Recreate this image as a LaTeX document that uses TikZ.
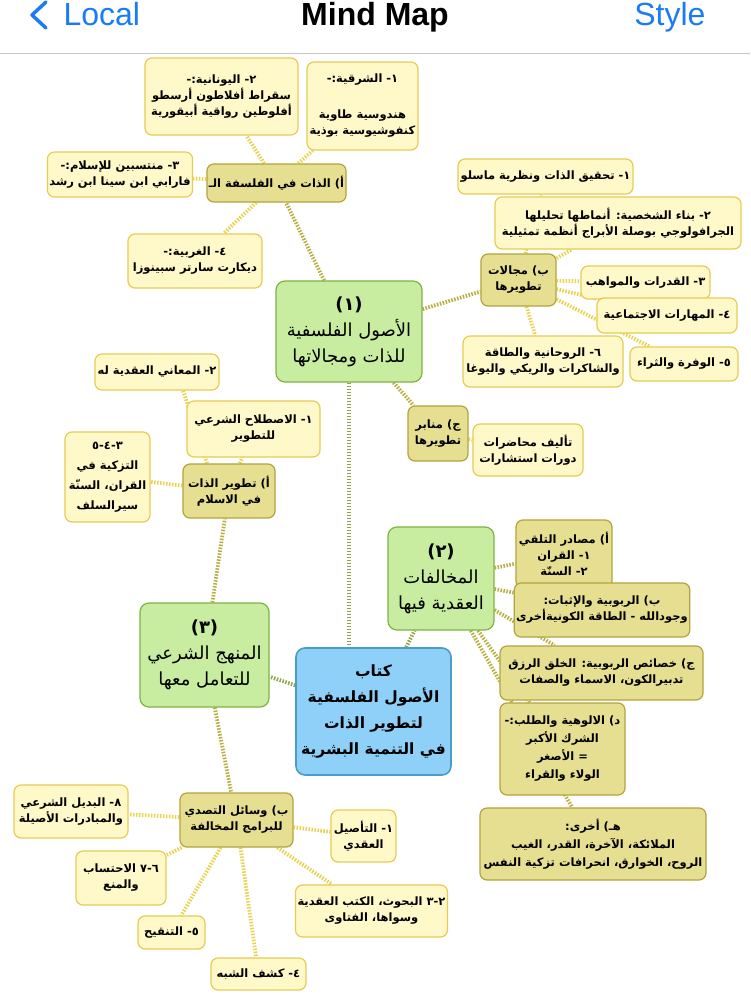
\documentclass[tikz,border=0pt]{standalone}
\usepackage{fontspec}
\setmainfont{Liberation Sans}
\newfontfamily\arabicfont[Script=Arabic]{DejaVu Sans}
\usetikzlibrary{backgrounds}
\TeXXeTstate=1
\newcommand\wk{\kern0pt}
\newcommand\rl[1]{\beginR#1\endR}
\definecolor{iosblue}{HTML}{1A7CF5}
\definecolor{leaffill}{HTML}{FFF8C8}
\definecolor{leafline}{HTML}{E6CC55}
\definecolor{subfill}{HTML}{E6DF92}
\definecolor{subline}{HTML}{B2A43E}
\definecolor{mainfill}{HTML}{C8EDA0}
\definecolor{mainline}{HTML}{7EB444}
\definecolor{rootfill}{HTML}{8FD0F8}
\definecolor{rootline}{HTML}{4B9CC9}
\definecolor{trunkcol}{HTML}{8DA843}
\definecolor{branchcol}{HTML}{B8AE3D}
\definecolor{twigcol}{HTML}{E8D34F}
\begin{document}
\begin{tikzpicture}[x=1pt, y=-1pt,
  box/.style={draw, rounded corners=7pt, line width=1.2pt, align=center, inner sep=2pt,
    font=\arabicfont\bfseries\fontsize{11.5}{16}\selectfont},
  leaf/.style={box, fill=leaffill, draw=leafline},
  sub/.style={box, fill=subfill, draw=subline},
  main/.style={box, fill=mainfill, draw=mainline, rounded corners=9pt,
    font=\arabicfont\fontsize{18}{26}\selectfont},
  root/.style={box, fill=rootfill, draw=rootline, rounded corners=9pt, line width=1.6pt,
    font=\arabicfont\bfseries\fontsize{15.5}{26}\selectfont},
  link/.style={dash pattern=on 1.5pt off 1.5pt, line width=3.8pt},
  trunk/.style={link, draw=trunkcol},
  branch/.style={link, draw=branchcol},
  twig/.style={link, draw=twigcol}]
\useasboundingbox (0,0) rectangle (750,995);

% top bar
\node[anchor=base, font=\bfseries\fontsize{32}{36}\selectfont] (title) at (375,26) {Mind Map};
\node[anchor=base west, text=iosblue, font=\fontsize{32}{36}\selectfont] (back) at (60,26) {Local};
\node[anchor=base east, text=iosblue, font=\fontsize{32}{36}\selectfont] (styl) at (709,26) {Style};
\draw[iosblue, line width=3.5pt, line cap=round, line join=round] (46,2)--(32,15)--(46,28);
\draw[black!22, line width=1pt] (0,54)--(750,54);

% centre and the three main topics
\node[root, minimum width=155, minimum height=127] (root) at (373.5,711.5)
  {\rl{كتاب}\\\rl{الأصول الفلسفية}\\\rl{لتطوير الذات}\\\rl{في التنمية البشرية}};
\node[main, minimum width=146, minimum height=101] (g1) at (349,331.5)
  {\rl{\textbf{(١)}}\\\rl{الأصول الفلسفية}\\\rl{للذات ومجالاتها}};
\node[main, minimum width=106, minimum height=103] (g2) at (441,578.5)
  {\rl{\textbf{(٢)}}\\\rl{المخالفات}\\\rl{العقدية فيها}};
\node[main, minimum width=129, minimum height=104] (g3) at (204.5,655)
  {\rl{\textbf{(٣)}}\\\rl{المنهج الشرعي}\\\rl{للتعامل معها}};

% topic 1
\node[sub, minimum width=133, minimum height=38] (a1) at (276.5,183)
  {\rl{أ) الذات في الفلسفة الـ}};
\node[leaf, minimum width=111, minimum height=88] (a1e) at (362.5,106)
  {\rl{١\wk{}- الشرقية:-}\\[20pt]\rl{هندوسية طاوية}\\\rl{كنفوشيوسية بوذية}};
\node[leaf, minimum width=153, minimum height=77] (a1g) at (221.5,96.5)
  {\rl{٢\wk{}- اليونانية:-}\\\rl{سقراط أفلاطون أرسطو}\\\rl{أفلوطين رواقية أبيقورية}};
\node[leaf, minimum width=140, minimum height=45] (a1i) at (120,174.5)
  {\rl{٣\wk{}- منتسبين للإسلام:-}\\\rl{فارابي ابن سينا ابن رشد}};
\node[leaf, minimum width=134, minimum height=54] (a1w) at (195,261)
  {\rl{٤\wk{}- الغربية:-}\\\rl{ديكارت سارتر سبينوزا}};

\node[sub, minimum width=75, minimum height=52] (b1) at (518.5,280) {\rl{ب) مجالات}\\\rl{تطويرها}};
\node[leaf, minimum width=175, minimum height=35] (b1a) at (545.5,176.5)
  {\rl{١\wk{}- تحقيق الذات ونظرية ماسلو}};
\node[leaf, minimum width=246, minimum height=52] (b1b) at (618,223)
  {\rl{٢\wk{}- بناء الشخصية: أنماطها تحليلها}\\\rl{الجرافولوجي بوصلة الأبراج أنظمة تمثيلية}};
\node[leaf, minimum width=129, minimum height=33] (b1c) at (645.5,282.5) {\rl{٣\wk{}- القدرات والمواهب}};
\node[leaf, minimum width=140, minimum height=35] (b1d) at (667,315.5) {\rl{٤\wk{}- المهارات الاجتماعية}};
\node[leaf, minimum width=108, minimum height=34] (b1e) at (684,364) {\rl{٥\wk{}- الوفرة والثراء}};
\node[leaf, minimum width=160, minimum height=51] (b1f) at (543,361.5)
  {\rl{٦\wk{}- الروحانية والطاقة}\\\rl{والشاكرات والريكي واليوغا}};

\node[sub, minimum width=60, minimum height=55] (c1) at (438,433.5) {\rl{ج) منابر}\\\rl{تطويرها}};
\node[leaf, minimum width=110, minimum height=52] (c1a) at (528,450) {\rl{تأليف محاضرات}\\\rl{دورات استشارات}};

% topic 3
\node[sub, minimum width=92, minimum height=54] (a3) at (229,491) {\rl{أ) تطوير الذات}\\\rl{في الاسلام}};
\node[leaf, minimum width=133, minimum height=56] (a3a) at (253.5,429) {\rl{١\wk{}- الاصطلاح الشرعي}\\\rl{للتطوير}};
\node[leaf, minimum width=124, minimum height=36] (a3b) at (157,372) {\rl{٢\wk{}- المعاني العقدية له}};
\node[leaf, minimum width=85, minimum height=90, font=\arabicfont\bfseries\fontsize{11.5}{20}\selectfont] (a3c) at (107.5,477)
  {\rl{٣-٤-٥}\\\rl{التزكية في}\\\rl{القران، السنّة}\\\rl{سيرالسلف}};

\node[sub, minimum width=113, minimum height=54] (b3) at (236.5,820) {\rl{ب) وسائل التصدي}\\\rl{للبرامج المخالفة}};
\node[leaf, minimum width=65, minimum height=52] (b3a) at (363.5,836) {\rl{١\wk{}- التأصيل}\\\rl{العقدي}};
\node[leaf, minimum width=133, minimum height=52] (b3b) at (371.5,911)
  {\rl{٢-٣ البحوث، الكتب العقدية}\\\rl{وسواها، الفتاوى}};
\node[leaf, minimum width=95, minimum height=32] (b3c) at (258.5,974) {\rl{٤\wk{}- كشف الشبه}};
\node[leaf, minimum width=67, minimum height=33] (b3d) at (171.5,932.5) {\rl{٥\wk{}- التنقيح}};
\node[leaf, minimum width=90, minimum height=54] (b3e) at (121,878) {\rl{٦-٧ الاحتساب}\\\rl{والمنع}};
\node[leaf, minimum width=114, minimum height=53] (b3f) at (71,811.5) {\rl{٨\wk{}- البديل الشرعي}\\\rl{والمبادرات الأصيلة}};

% topic 2
\node[sub, minimum width=96, minimum height=68] (d1) at (564,554)
  {\rl{أ) مصادر التلقي}\\\rl{١\wk{}- القران}\\\rl{٢\wk{}- السنّة}};
\node[sub, minimum width=172, minimum height=54] (d2) at (602,610)
  {\rl{ب) الربوبية والإثبات:}\\\rl{وجودالله - الطاقة الكونيةأخرى}};
\node[sub, minimum width=203, minimum height=54] (d3) at (601.5,673)
  {\rl{ج) خصائص الربوبية: الخلق الرزق}\\\rl{تدبيرالكون، الاسماء والصفات}};
\node[sub, minimum width=125, minimum height=92, font=\arabicfont\bfseries\fontsize{11.5}{18}\selectfont] (d4) at (562.5,749)
  {\rl{د) الالوهية والطلب:-}\\\rl{الشرك الأكبر}\\\rl{= الأصغر}\\\rl{الولاء والقراء}};
\node[sub, minimum width=226, minimum height=72, font=\arabicfont\bfseries\fontsize{11.5}{18}\selectfont] (d5) at (593,844)
  {\rl{هـ) أخرى:}\\\rl{الملائكة، الآخرة، القدر، الغيب}\\\rl{الروح، الخوارق، انحرافات تزكية النفس}};

\begin{scope}[on background layer]
\fill[white] (0,0) rectangle (750,995);
\draw[trunk] (g1.south) -- (g1.south |- root.north);
\draw[trunk] (root) -- (g2);
\draw[trunk] (root) -- (g3);
\foreach \n in {a1,b1,c1} \draw[branch] (g1) -- (\n);
\foreach \n in {d1,d2,d3,d4,d5} \draw[branch] (g2) -- (\n);
\foreach \n in {a3,b3} \draw[branch] (g3) -- (\n);
\foreach \n in {a1e,a1g,a1i,a1w} \draw[twig] (a1) -- (\n);
\foreach \n in {b1a,b1b,b1c,b1d,b1e,b1f} \draw[twig] (b1) -- (\n);
\draw[twig] (c1) -- (c1a);
\draw[twig] (a3) -- (a3a);
\draw[twig] ([xshift=-22pt]a3.north) -- ([xshift=26pt]a3b.south);
\draw[twig] (a3) -- (a3c);
\foreach \n in {b3a,b3b,b3c,b3d,b3e,b3f} \draw[twig] (b3) -- (\n);
\end{scope}
\end{tikzpicture}
\end{document}
